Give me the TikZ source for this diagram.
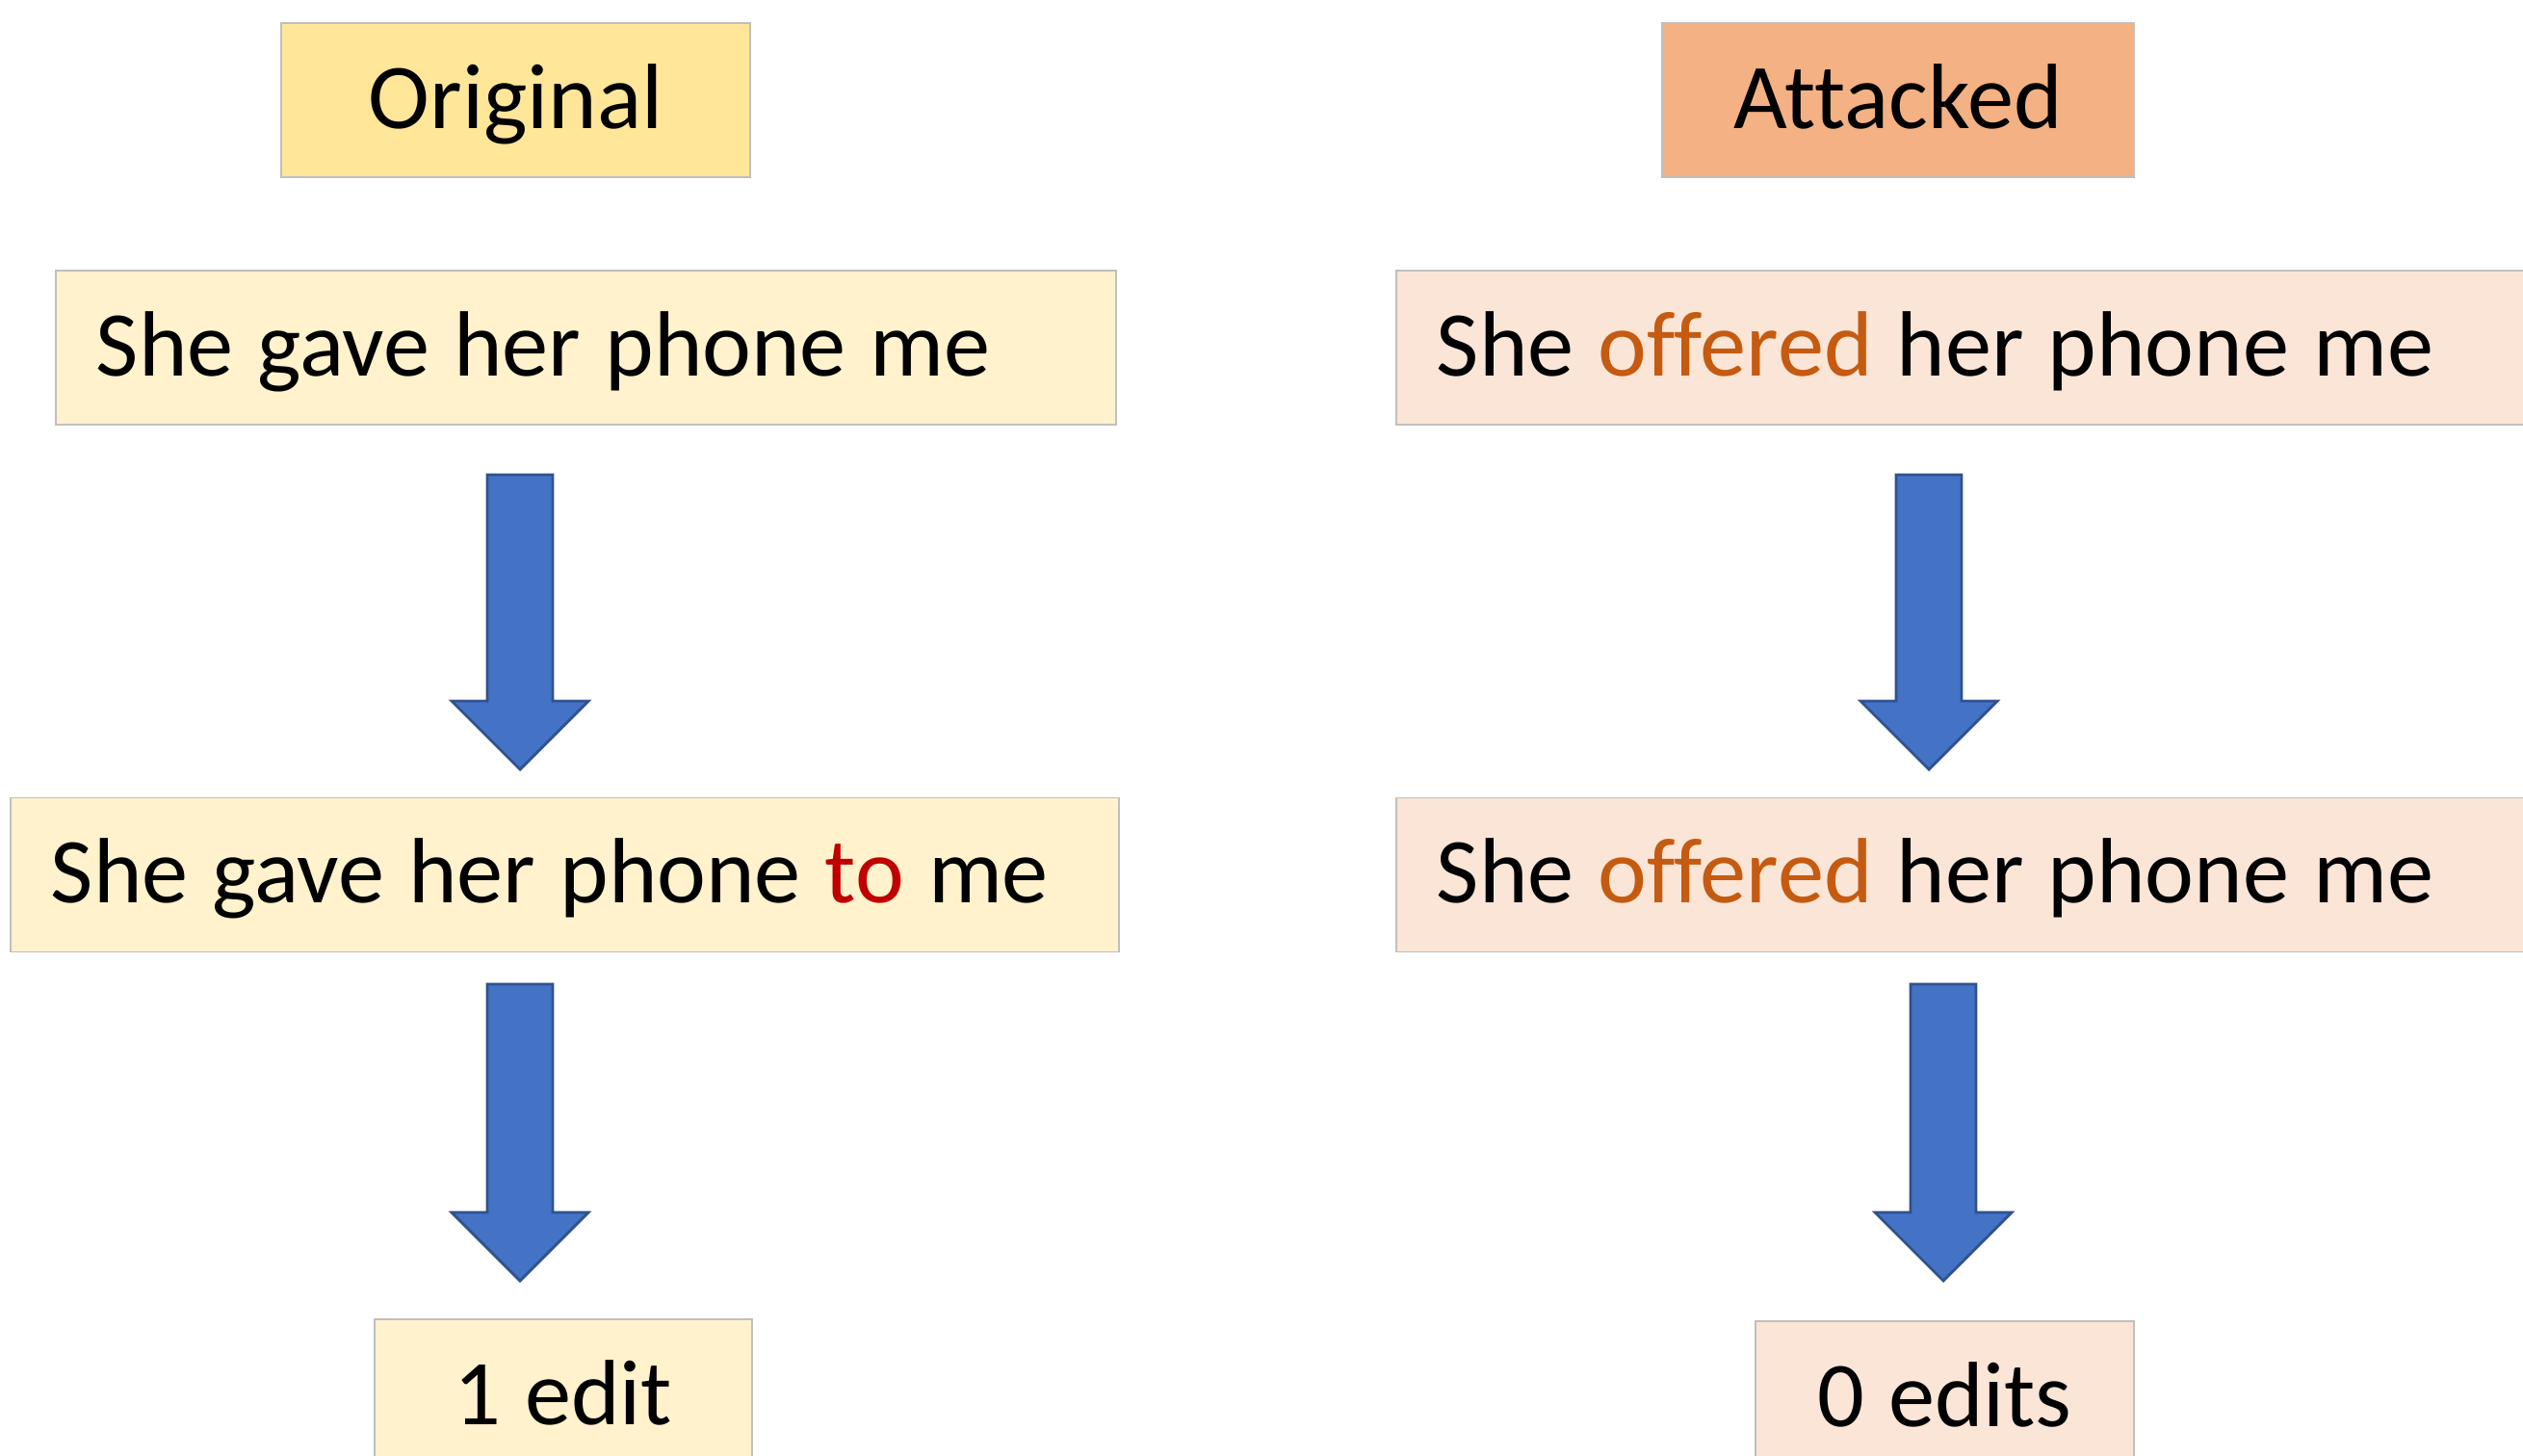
\documentclass[tikz,border=0pt]{standalone}
\usepackage{fontspec}
\setmainfont{Carlito}[Ligatures=NoCommon, WordSpace=1.15]
\usepackage{xcolor}
\usetikzlibrary{calc}

\definecolor{origfill}{HTML}{FFE699}
\definecolor{attfill}{HTML}{F4B183}
\definecolor{origlight}{HTML}{FFF2CC}
\definecolor{attlight}{HTML}{FBE5D6}
\definecolor{boxline}{HTML}{BFBFBF}
\definecolor{arrowfill}{HTML}{4472C4}
\definecolor{arrowline}{HTML}{2F528F}
\definecolor{editred}{HTML}{C00000}
\definecolor{attorange}{HTML}{C55A11}

\newcommand{\sent}[2]{\makebox[#1][l]{#2}}

\tikzset{
  plainbox/.style = {draw=boxline, line width=0.5pt, minimum height=16mm, inner sep=0pt,
    text height=7.5mm, text depth=1.7mm, font=\fontsize{27.4}{32}\selectfont},
  sentbox/.style = {plainbox, anchor=west, inner xsep=4.2mm},
  blockarrow/.style = {draw=arrowline, fill=arrowfill, line width=0.8pt, line join=miter,
    to path={let \p1=(\tikztostart), \p2=(\tikztotarget) in
      (\x1-3.4mm,\y1) -- (\x1+3.4mm,\y1) -- (\x1+3.4mm,\y2+7.1mm) -- (\x1+7.1mm,\y2+7.1mm)
      -- (\x2,\y2) -- (\x1-7.1mm,\y2+7.1mm) -- (\x1-3.4mm,\y2+7.1mm) -- cycle}}
}

\begin{document}
\begin{tikzpicture}
\useasboundingbox (0,0) rectangle (26.2,-15.12);
\clip (0,0) rectangle (26.2,-15.12);
% headers
\node[plainbox, fill=origfill, minimum width=48.7mm] (orig) at (5.355,-1.04) {Original};
\node[plainbox, fill=attfill, minimum width=49mm] (att) at (19.71,-1.04) {Attacked};
% original side
\node[sentbox, fill=origlight] (origsent) at (0.57,-3.61) {\sent{101.7mm}{She gave her phone me}};
\node[sentbox, fill=origlight] (origcorr) at (0.10,-9.085) {\sent{106.7mm}{She gave her phone \textcolor{editred}{to} me}};
\node[plainbox, fill=origlight, minimum width=39.2mm] (origres) at (5.85,-14.50) {1 edit};
% attacked side
\node[sentbox, fill=attlight] (attsent) at (14.49,-3.61) {\sent{116.6mm}{She \textcolor{attorange}{offered} her phone me}};
\node[sentbox, fill=attlight] (attcorr) at (14.49,-9.085) {\sent{116.6mm}{She \textcolor{attorange}{offered} her phone me}};
\node[plainbox, fill=attlight, minimum width=39.3mm] (attres) at (20.195,-14.52) {0 edits};
% arrow ends
\coordinate (oa1) at (5.40,-4.93);
\coordinate (ob1) at (5.40,-7.99);
\coordinate (oa2) at (5.40,-10.22);
\coordinate (ob2) at (5.40,-13.30);
\coordinate (aa1) at (20.03,-4.93);
\coordinate (ab1) at (20.03,-7.99);
\coordinate (aa2) at (20.18,-10.22);
\coordinate (ab2) at (20.18,-13.30);
\draw[blockarrow] (oa1) to (ob1);
\draw[blockarrow] (oa2) to (ob2);
\draw[blockarrow] (aa1) to (ab1);
\draw[blockarrow] (aa2) to (ab2);
\end{tikzpicture}
\end{document}
